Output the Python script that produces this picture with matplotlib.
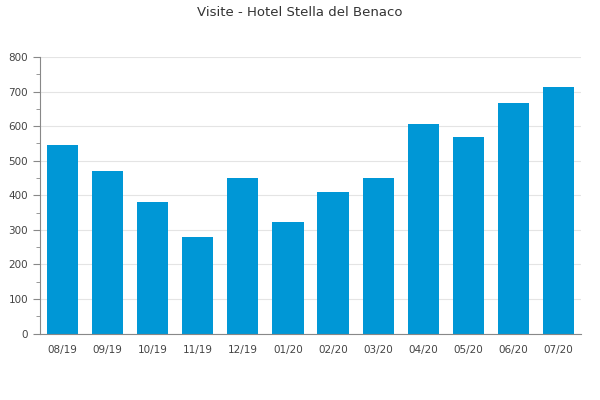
import matplotlib
matplotlib.use("Agg")
import matplotlib.pyplot as plt
from matplotlib.ticker import MultipleLocator

months = ["08/19", "09/19", "10/19", "11/19", "12/19", "01/20",
          "02/20", "03/20", "04/20", "05/20", "06/20", "07/20"]
visits = [545, 470, 380, 279, 450, 322, 409, 450, 606, 568, 667, 713]

fig = plt.figure(figsize=(6, 4), dpi=100)
ax = fig.add_axes([40 / 600, 1 - 333.5 / 400, 541 / 600, 276.5 / 400])

ax.bar(range(len(months)), visits, width=0.69, color="#0097d6", zorder=2)
ax.set_xlim(-0.5, len(months) - 0.5)
ax.set_ylim(0, 800)
ax.yaxis.set_major_locator(MultipleLocator(100))
ax.yaxis.set_minor_locator(MultipleLocator(50))
ax.grid(axis="y", color="#e4e4e4", linewidth=0.8, zorder=0)

ax.set_xticks(range(len(months)))
ax.set_xticklabels(months)
ax.tick_params(axis="x", length=0, pad=8, labelsize=7.5, colors="#444444")
ax.tick_params(axis="y", which="major", length=5, color="#888888",
               labelsize=7.5, labelcolor="#444444")
ax.tick_params(axis="y", which="minor", length=3, color="#888888")

for side in ["top", "right"]:
    ax.spines[side].set_visible(False)
ax.spines["left"].set_color("#888888")
ax.spines["bottom"].set_color("#888888")

fig.suptitle("Visite - Hotel Stella del Benaco", y=0.985, fontsize=9.5,
             color="#333333")

fig.savefig("out.png", dpi=100)
